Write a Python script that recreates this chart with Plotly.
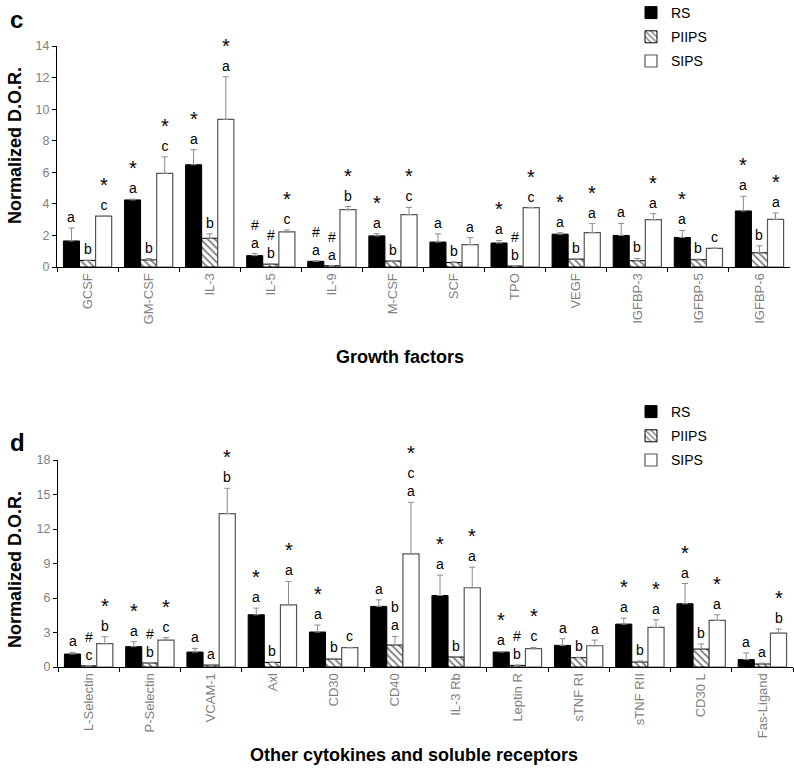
import plotly.graph_objects as go

W, H = 794, 768

# ---------------- Panel c: Growth factors ----------------
gf_categories = ["GCSF", "GM-CSF", "IL-3", "IL-5", "IL-9", "M-CSF", "SCF", "TPO",
                 "VEGF", "IGFBP-3", "IGFBP-5", "IGFBP-6"]
gf_rs = [1.65, 4.25, 6.48, 0.72, 0.36, 1.97, 1.58, 1.52, 2.08, 2.00, 1.87, 3.55]
gf_rs_err = [0.82, 0.05, 0.95, 0.13, 0.03, 0.14, 0.52, 0.16, 0.09, 0.76, 0.45, 0.93]
gf_piips = [0.42, 0.45, 1.82, 0.18, 0.08, 0.38, 0.28, 0.06, 0.50, 0.40, 0.46, 0.90]
gf_piips_err = [0.0, 0.08, 0.28, 0.03, 0.0, 0.0, 0.05, 0.0, 0.0, 0.14, 0.04, 0.44]
gf_sips = [3.22, 5.93, 9.35, 2.22, 3.63, 3.32, 1.42, 3.76, 2.18, 3.00, 1.18, 3.02]
gf_sips_err = [0.0, 1.05, 2.70, 0.13, 0.20, 0.46, 0.44, 0.0, 0.57, 0.38, 0.02, 0.40]

gf_rs_marks = [["a"], ["*", "a"], ["*", "a"], ["#", "a"], ["#", "a"], ["*", "a"],
               ["a"], ["*", "a"], ["*", "a"], ["a"], ["*", "a"], ["*", "a"]]
gf_piips_marks = [["b"], ["b"], ["b"], ["#", "b"], ["#", "a"], ["b"],
                  ["b"], ["#", "b"], ["b"], ["b"], ["b"], ["b"]]
gf_sips_marks = [["*", "c"], ["*", "c"], ["*", "a"], ["*", "c"], ["*", "b"], ["*", "c"],
                 ["a"], ["*", "c"], ["*", "a"], ["*", "a"], ["c"], ["*", "a"]]

# ---------------- Panel d: Other cytokines ----------------
ck_categories = ["L-Selectin", "P-Selectin", "VCAM-1", "Axl", "CD30", "CD40", "IL-3 Rb",
                 "Leptin R", "sTNF RI", "sTNF RII", "CD30 L", "Fas-Ligand"]
ck_rs = [1.13, 1.77, 1.30, 4.54, 3.04, 5.27, 6.22, 1.30, 1.88, 3.73, 5.50, 0.64]
ck_rs_err = [0.14, 0.43, 0.32, 0.58, 0.61, 0.57, 1.77, 0.05, 0.58, 0.52, 1.76, 0.58]
ck_piips = [0.10, 0.35, 0.17, 0.40, 0.69, 1.91, 0.87, 0.14, 0.81, 0.43, 1.56, 0.26]
ck_piips_err = [0.0, 0.03, 0.0, 0.03, 0.06, 0.75, 0.03, 0.02, 0.04, 0.10, 0.44, 0.08]
ck_sips = [2.03, 2.34, 13.34, 5.41, 1.68, 9.84, 6.89, 1.59, 1.85, 3.44, 4.05, 2.95]
ck_sips_err = [0.60, 0.21, 2.20, 2.03, 0.02, 4.48, 1.79, 0.11, 0.49, 0.67, 0.49, 0.35]

ck_rs_marks = [["a"], ["*", "a"], ["a"], ["*", "a"], ["*", "a"], ["a"],
               ["*", "a"], ["*", "a"], ["a"], ["*", "a"], ["*", "a"], ["a"]]
ck_piips_marks = [["#", "c"], ["#", "b"], ["a"], ["b"], ["b"], ["b", "a"],
                  ["b"], ["#", "b"], ["b"], ["b"], ["b"], ["a"]]
ck_sips_marks = [["*", "b"], ["*", "c"], ["*", "b"], ["*", "a"], ["c"], ["*", "c", "a"],
                 ["*", "a"], ["*", "c"], ["a"], ["*", "a"], ["*", "a"], ["*", "b"]]

series_names = ["RS", "PIIPS", "SIPS"]

FONT = "Liberation Sans, Arial, sans-serif"
BARGAP = 0.21


def px_x(x):
    return x / W


def px_y(y):
    return 1 - y / H


top_x = (57, 790)
top_y = (46, 267)
bot_x = (58, 793)
bot_y = (460, 667)

fig = go.Figure()


def marker_for(name):
    if name == "RS":
        return dict(color="black", line=dict(color="black", width=1))
    if name == "PIIPS":
        return dict(color="white",
                    pattern=dict(shape="\\", fgcolor="black", bgcolor="white",
                                 size=5, solidity=0.35),
                    line=dict(color="black", width=1))
    return dict(color="white", line=dict(color="#555555", width=1.2))


def add_panel(cats, vals, errs, marks, xa, ya, legend, xpx):
    n = len(cats)
    group_px = (xpx[1] - xpx[0]) / n
    bw = group_px * (1 - BARGAP) / 3
    for i, name in enumerate(series_names):
        fig.add_trace(go.Bar(
            x=cats, y=vals[i], name=name,
            marker=marker_for(name),
            error_y=dict(type="data", array=errs[i], arrayminus=[0] * n,
                         symmetric=False, color="#8c8c8c", thickness=1, width=3),
            xaxis=xa, yaxis=ya, legend=legend, legendgroup=name + legend,
        ))
        for j, c in enumerate(cats):
            lines = []
            for m in marks[i][j]:
                if m == "*":
                    lines.append("<span style='font-size:20px'>*</span>")
                else:
                    lines.append(m)
            fig.add_annotation(
                x=c, y=vals[i][j] + errs[i][j], xref=xa, yref=ya,
                text="<br>".join(lines), showarrow=False,
                yanchor="bottom", xanchor="center",
                xshift=(i - 1) * bw, yshift=1,
                font=dict(size=14, color="black", family=FONT),
            )


add_panel(gf_categories, [gf_rs, gf_piips, gf_sips],
          [gf_rs_err, gf_piips_err, gf_sips_err],
          [gf_rs_marks, gf_piips_marks, gf_sips_marks], "x", "y", "legend", top_x)
add_panel(ck_categories, [ck_rs, ck_piips, ck_sips],
          [ck_rs_err, ck_piips_err, ck_sips_err],
          [ck_rs_marks, ck_piips_marks, ck_sips_marks], "x2", "y2", "legend2", bot_x)

xcommon = dict(type="category", tickson="boundaries", ticks="outside", ticklen=4,
               tickcolor="black", showline=True, linecolor="black", linewidth=1,
               tickangle=-90, tickfont=dict(size=13, color="#7f7f7f", family=FONT),
               showgrid=False, zeroline=False, automargin=False)
ycommon = dict(showline=True, linecolor="black", linewidth=1, ticks="outside",
               ticklen=4, tickcolor="black",
               tickfont=dict(size=12.5, color="#808080", family=FONT),
               showgrid=False, zeroline=False, automargin=False)

legcommon = dict(xanchor="left", yanchor="top", bgcolor="rgba(0,0,0,0)",
                 font=dict(size=14, color="black", family=FONT),
                 tracegroupgap=3, traceorder="grouped")

fig.update_layout(
    width=W, height=H,
    margin=dict(l=0, r=0, t=0, b=0, autoexpand=False),
    paper_bgcolor="white", plot_bgcolor="white",
    barmode="group", bargap=BARGAP, bargroupgap=0,
    font=dict(family=FONT, color="black"),
    xaxis=dict(domain=[px_x(top_x[0]), px_x(top_x[1])], anchor="y", **xcommon),
    yaxis=dict(domain=[px_y(top_y[1]), px_y(top_y[0])], anchor="x",
               range=[0, 14], dtick=2, **ycommon),
    xaxis2=dict(domain=[px_x(bot_x[0]), px_x(bot_x[1])], anchor="y2", **xcommon),
    yaxis2=dict(domain=[px_y(bot_y[1]), px_y(bot_y[0])], anchor="x2",
                range=[0, 18], dtick=3, **ycommon),
    legend=dict(x=px_x(631), y=px_y(-3), **legcommon),
    legend2=dict(x=px_x(631), y=px_y(396), **legcommon),
)

# Titles and panel letters
texts = [
    ("c", 8, 20, 0, 24, "left"),
    ("d", 8, 442, 0, 24, "left"),
    ("Normalized D.O.R.", 15, 146, -90, 18, "center"),
    ("Normalized D.O.R.", 15, 570, -90, 18, "center"),
    ("Growth factors", 400, 357, 0, 18, "center"),
    ("Other cytokines and soluble receptors", 414, 755, 0, 18, "center"),
]
for t, x, y, ang, sz, xa in texts:
    fig.add_annotation(x=px_x(x), y=px_y(y), xref="paper", yref="paper",
                       text="<b>%s</b>" % t, showarrow=False, textangle=ang,
                       xanchor=xa, yanchor="middle",
                       font=dict(size=sz, color="black", family=FONT))

fig.write_html("out.html",
               config={"displayModeBar": False, "staticPlot": True},
               post_script="document.body.style.margin='0';document.body.style.overflow='hidden';")
